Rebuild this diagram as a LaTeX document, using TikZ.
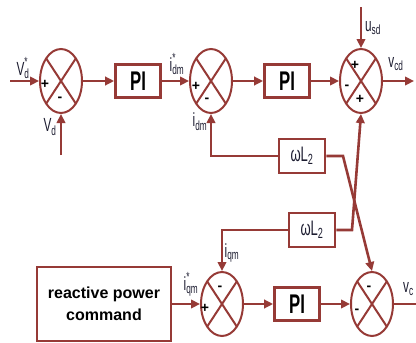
\documentclass[tikz,border=0pt]{standalone}
\usepackage{fontspec}
\setmainfont{Liberation Sans}
\newfontfamily\condfont[FakeStretch=0.62]{Liberation Sans}
\usetikzlibrary{positioning, shapes.geometric, arrows.meta}
\definecolor{darkred}{RGB}{150,58,54}
\definecolor{labelink}{RGB}{28,28,48}
\newcommand{\sig}[3]{#1\rlap{\raisebox{3pt}{\textsuperscript{#3}}}\textsubscript{#2}}

\begin{document}
\begin{tikzpicture}[
        x=1pt, y=-1pt,
        >={Triangle[length=9pt, width=8.5pt]},
        wire/.style={draw=darkred, line width=2.6pt},
        sumnode/.style={ellipse, draw=darkred, line width=2pt, minimum width=42pt, minimum height=64pt, inner sep=0pt,
            path picture={\draw[darkred, line width=2pt]
                (path picture bounding box.north west) -- (path picture bounding box.south east)
                (path picture bounding box.north east) -- (path picture bounding box.south west);}},
        pibox/.style={rectangle, draw=darkred, line width=2.8pt, minimum width=45pt, minimum height=33pt,
            font=\condfont\bfseries\fontsize{27}{27}\selectfont, text=black},
        gainbox/.style={rectangle, draw=darkred, line width=2.8pt, minimum width=46pt, minimum height=34pt,
            font=\condfont\fontsize{21}{21}\selectfont, text=labelink},
        cmdbox/.style={rectangle, draw=darkred, line width=2.8pt, minimum width=134pt, minimum height=74pt,
            align=center, font=\bfseries\fontsize{16}{22}\selectfont, text=black},
        sgn/.style={inner sep=0pt, font=\bfseries\fontsize{14}{14}\selectfont, text=black},
        lbl/.style={inner sep=0pt, font=\condfont\fontsize{19}{19}\selectfont, text=labelink}
    ]
    \useasboundingbox (0,0) rectangle (416,343);
    % upper row
    \node[sumnode] (S1) at (61,81) {};
    \node[pibox] (PI1) at (138,81) {PI};
    \node[sumnode] (S2) at (211,81) {};
    \node[pibox] (PI2) at (287,81) {PI};
    \node[sumnode] (S3) at (361,81) {};
    % cross coupling
    \node[gainbox] (W1) at (302,156) {ωL\textsubscript{2}};
    \node[gainbox] (W2) at (312,230) {ωL\textsubscript{2}};
    % lower row
    \node[cmdbox] (RPC) at (104,304) {reactive power\\command};
    \node[sumnode] (S4) at (222,304) {};
    \node[pibox] (PI3) at (297,304) {PI};
    \node[sumnode] (S5) at (372,304) {};

    % signs
    \node[sgn] at ([shift={(-16,3)}]S1) {+};
    \node[sgn] at ([shift={(-1,18)}]S1) {-};
    \node[sgn] at ([shift={(-15,5)}]S2) {+};
    \node[sgn] at ([shift={(-4,19)}]S2) {-};
    \node[sgn] at ([shift={(-6,-16)}]S3) {+};
    \node[sgn] at ([shift={(-14,6)}]S3) {-};
    \node[sgn] at ([shift={(-1,18)}]S3) {+};
    \node[sgn] at ([shift={(-2,-16)}]S4) {-};
    \node[sgn] at ([shift={(-17,4)}]S4) {+};
    \node[sgn] at ([shift={(-3,-16)}]S5) {-};
    \node[sgn] at ([shift={(-15,7)}]S5) {-};

    % free ends
    \coordinate (vdref) at (10,81);
    \coordinate (vdmeas) at (61,155);
    \coordinate (usd) at (361,7);
    \coordinate (vcdout) at (414,81);
    \coordinate (vcqout) at (418,304);
    \coordinate (k1) at (343,156);
    \coordinate (k2) at (352,230);

    % connectors
    \draw[wire,->] (vdref) -- (S1);
    \draw[wire,->] (vdmeas) -- (S1);
    \draw[wire,->] (S1) -- (PI1);
    \draw[wire,->] (PI1) -- (S2);
    \draw[wire,->] (S2) -- (PI2);
    \draw[wire,->] (PI2) -- (S3);
    \draw[wire,->] (usd) -- (S3);
    \draw[wire,->] (S3) -- (vcdout);
    \draw[wire,->] (W1.west) -| (S2.south);
    \draw[wire,->] (W1.east) -- (k1) -- (S5.north);
    \draw[wire,->] (W2.east) -- (k2) -- (S3.south);
    \draw[wire,->] (W2.west) -| (S4.north);
    \draw[wire,->] (RPC) -- (S4);
    \draw[wire,->] (S4) -- (PI3);
    \draw[wire,->] (PI3) -- (S5);
    \draw[wire] (S5) -- (vcqout);

    % signal labels
    \node[lbl] (lvdref) at (23,68) {\sig{V}{d}{*}};
    \node[lbl] (lvd) at (50,127) {\sig{V}{d}{}};
    \node[lbl] (lidref) at (177,64) {\sig{i}{dm}{*}};
    \node[lbl] (lid) at (200,122) {\sig{i}{dm}{}};
    \node[lbl] (lusd) at (373,28) {\sig{u}{sd}{}};
    \node[lbl] (lvcd) at (396,64) {\sig{v}{cd}{}};
    \node[lbl] (liq) at (232,253) {\sig{i}{qm}{}};
    \node[lbl] (liqref) at (191,284) {\sig{i}{qm}{*}};
    \node[lbl, anchor=west] (lvcq) at (403,289) {\sig{v}{c}{}};
\end{tikzpicture}
\end{document}
